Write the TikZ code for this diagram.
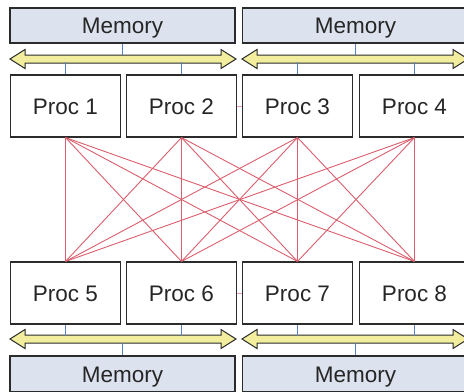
\documentclass[tikz,border=0pt]{standalone}
\usepackage{fontspec}
\setmainfont{Liberation Sans}
\definecolor{memfill}{HTML}{DCE3EE}
\definecolor{busfill}{HTML}{F2EE9E}
\definecolor{boxline}{HTML}{2B2B2B}
\definecolor{linkred}{HTML}{DA5E6C}
\definecolor{tapblue}{HTML}{5B80C0}
\tikzset{
  label text/.style={text=black!85, font=\fontsize{22.5bp}{26bp}\selectfont,
    text height=16.1bp, text depth=0pt},
  memory/.style={draw=boxline, line width=1.1bp, fill=memfill, minimum width=225bp,
    minimum height=35bp, inner sep=0pt, label text},
  proc/.style={draw=boxline, line width=1.1bp, fill=white, minimum width=110bp,
    minimum height=62bp, inner sep=0pt, label text},
  bus/.style={draw=boxline, line width=1bp, fill=busfill, line join=miter},
  link/.style={draw=linkred, line width=0.9bp},
  tap/.style={draw=tapblue, line width=1bp}
}
% double-headed bus arrow: left tip x, right tip x, centre y
\newcommand{\busarrow}[3]{%
  \filldraw[bus] (#1,#3) -- ++(15,-9.5) -- ++(0,5.5) -- (#2-15,#3-4) -- ++(0,-5.5)
    -- (#2,#3) -- ++(-15,9.5) -- ++(0,-5.5) -- (#1+15,#3+4) -- ++(0,5.5) -- cycle;}
\begin{document}
\begin{tikzpicture}[x=1bp,y=-1bp]
\useasboundingbox (0,0) rectangle (464,391);
\clip (0,0) rectangle (464,391);

% memories
\node[memory] (m1) at (122.5,25.5) {Memory};
\node[memory, minimum width=226bp] (m2) at (355.5,25.5) {Memory};
\node[memory, minimum height=36bp] (m3) at (122.5,374) {Memory};
\node[memory, minimum width=226bp, minimum height=36bp] (m4) at (355.5,374) {Memory};

% processors
\node[proc] (p1) at (65.5,106) {Proc 1};
\node[proc] (p2) at (181.5,106) {Proc 2};
\node[proc] (p3) at (297.5,106) {Proc 3};
\node[proc] (p4) at (414.5,106) {Proc 4};
\node[proc] (p5) at (65.5,293) {Proc 5};
\node[proc] (p6) at (181.5,293) {Proc 6};
\node[proc] (p7) at (297.5,293) {Proc 7};
\node[proc] (p8) at (414.5,293) {Proc 8};

% buses
\busarrow{10}{236}{59}
\busarrow{242}{468}{59}
\busarrow{10}{236}{339}
\busarrow{242}{468}{339}

% bus taps
\coordinate (t1) at (122.5,55); \coordinate (t2) at (355.5,55);
\coordinate (t3) at (122.5,343); \coordinate (t4) at (355.5,343);
\draw[tap] (m1.south) -- (t1);
\draw[tap] (m2.south) -- (t2);
\draw[tap] (m3.north) -- (t3);
\draw[tap] (m4.north) -- (t4);
\foreach \p in {p1,p2,p3,p4}{
  \coordinate (u\p) at ([yshift=12bp]\p.north);
  \draw[tap] (u\p) -- (\p.north);
}
\foreach \p in {p5,p6,p7,p8}{
  \coordinate (u\p) at ([yshift=-11bp]\p.south);
  \draw[tap] (\p.south) -- (u\p);
}

% interconnect
\foreach \i in {1,...,4}{
  \foreach \j in {5,...,8}{
    \draw[link] (p\i.south) -- (p\j.north);
  }
}
\draw[link, draw=linkred!60] (p2.east) -- (p3.west);
\draw[link, draw=linkred!60] (p6.east) -- (p7.west);
\end{tikzpicture}
\end{document}
